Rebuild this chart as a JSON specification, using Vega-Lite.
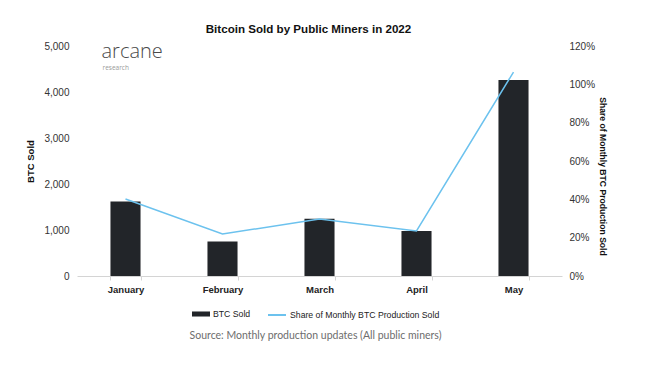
{
  "$schema": "https://vega.github.io/schema/vega-lite/v6.json",
  "autosize": "none",
  "width": 485,
  "height": 230,
  "padding": {"left": 77, "top": 46, "right": 89, "bottom": 91},
  "background": "white",
  "title": {
    "text": "Bitcoin Sold by Public Miners in 2022",
    "font": "Liberation Sans",
    "fontSize": 11.6,
    "fontWeight": "bold",
    "color": "#111111",
    "anchor": "middle",
    "dx": -11,
    "offset": 5
  },
  "config": {
    "view": {"stroke": null},
    "axis": {"labelFont": "Liberation Sans", "titleFont": "Liberation Sans", "labelColor": "#333333", "titleColor": "#111111", "grid": false},
    "legend": {"labelFont": "Liberation Sans", "labelFontSize": 8.7, "labelColor": "#222222", "padding": 0, "labelLimit": 400}
  },
  "data": {
    "values": [
      {"month": "January", "btc": 1620, "share": 0.402},
      {"month": "February", "btc": 750, "share": 0.219},
      {"month": "March", "btc": 1245, "share": 0.297},
      {"month": "April", "btc": 980, "share": 0.235},
      {"month": "May", "btc": 4260, "share": 1.064}
    ]
  },
  "encoding": {
    "x": {
      "field": "month",
      "type": "ordinal",
      "sort": null,
      "scale": {"paddingInner": 0.69, "paddingOuter": 0.345},
      "axis": {
        "title": "Source: Monthly production updates (All public miners)",
        "titleFont": "Lato",
        "titleFontSize": 10.5,
        "titleFontWeight": "normal",
        "titleColor": "#6d6d6d",
        "titlePadding": 37,
        "titleX": 238,
        "labelAngle": 0,
        "labelFontSize": 9.5,
        "labelFontWeight": "bold",
        "labelColor": "#222222",
        "labelPadding": 4,
        "domainColor": "#d4d4d4",
        "tickColor": "#d4d4d4",
        "tickSize": 4,
        "tickBand": "extent"
      }
    }
  },
  "layer": [
    {
      "layer": [
        {
          "mark": {"type": "bar"},
          "encoding": {
            "y": {
              "field": "btc",
              "type": "quantitative",
              "scale": {"domain": [0, 5000], "nice": false},
              "axis": {
                "title": "BTC Sold",
                "titleFontSize": 9.5,
                "titleFontWeight": "bold",
                "titlePadding": 8,
                "values": [0, 1000, 2000, 3000, 4000, 5000],
                "format": ",d",
                "labelFontSize": 10,
                "labelPadding": 8,
                "domain": false,
                "ticks": false
              }
            },
            "fill": {
              "datum": "BTC Sold",
              "scale": {"range": ["#222529"]},
              "legend": {
                "title": null,
                "orient": "none",
                "legendX": 115,
                "legendY": 259,
                "symbolType": "M-1,-0.28H1V0.28H-1Z",
                "symbolSize": 324,
                "symbolStrokeWidth": 0,
                "labelOffset": 3
              }
            }
          }
        },
        {
          "data": {"values": [{"t": "arcane"}]},
          "mark": {"type": "text", "align": "left", "baseline": "alphabetic", "font": "Open Sans", "fontWeight": 300, "fontSize": 20, "color": "#4a4a4a", "dx": -24},
          "encoding": {
            "x": {"datum": "January"},
            "y": {"datum": 4750},
            "text": {"field": "t"}
          }
        },
        {
          "data": {"values": [{"t": "research"}]},
          "mark": {"type": "text", "align": "left", "baseline": "alphabetic", "font": "Open Sans", "fontSize": 6.5, "color": "#9a9a9a", "dx": -23},
          "encoding": {
            "x": {"datum": "January"},
            "y": {"datum": 4470},
            "text": {"field": "t"}
          }
        }
      ]
    },
    {
      "mark": {"type": "line", "strokeWidth": 1.5},
      "encoding": {
        "y": {
          "field": "share",
          "type": "quantitative",
          "scale": {"domain": [0, 1.2], "nice": false},
          "axis": {
            "orient": "right",
            "title": "Share of Monthly BTC Production Sold",
            "titleFontSize": 8.6,
            "titleFontWeight": "bold",
            "titlePadding": 3,
            "titleY": 130,
            "values": [0, 0.2, 0.4, 0.6, 0.8, 1.0, 1.2],
            "format": ".0%",
            "labelFontSize": 10,
            "labelPadding": 7,
            "domain": false,
            "ticks": false
          }
        },
        "stroke": {
          "datum": "Share of Monthly BTC Production Sold",
          "scale": {"range": ["#6cc2ee"]},
          "legend": {
            "title": null,
            "orient": "none",
            "legendX": 190,
            "legendY": 259,
            "symbolType": "stroke",
            "symbolSize": 324,
            "symbolStrokeWidth": 2,
            "labelOffset": 3
          }
        }
      }
    }
  ],
  "resolve": {"scale": {"y": "independent", "fill": "independent", "stroke": "independent"}}
}
